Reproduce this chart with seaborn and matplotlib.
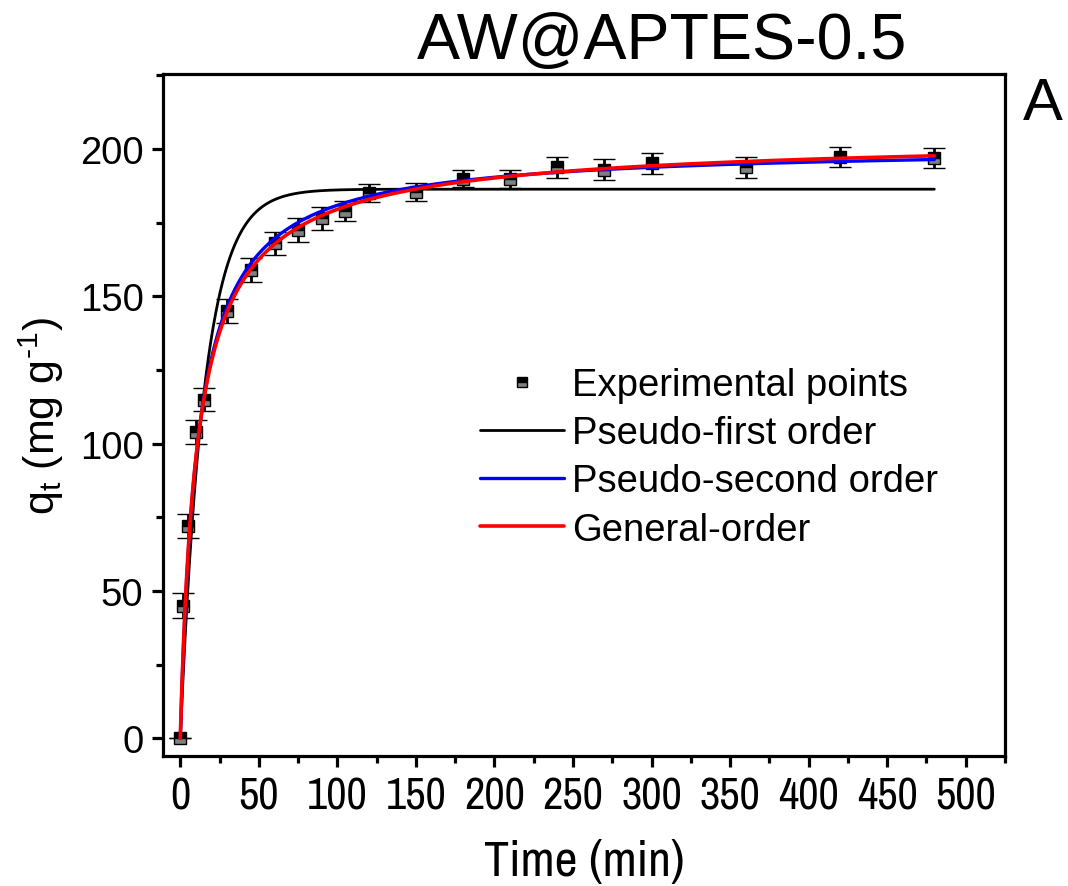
import numpy as np
import pandas as pd
import matplotlib
matplotlib.use("Agg")
import matplotlib.pyplot as plt
from matplotlib import font_manager
from matplotlib.lines import Line2D
import seaborn as sns

# Experimental kinetic data
time_min = [0, 2, 5, 10, 15, 30, 45, 60, 75, 90, 105, 120, 150, 180, 210, 240, 270, 300, 360, 420, 480]
qt_exp = [0.0, 45.0, 72.0, 104.0, 115.0, 145.0, 159.0, 168.0, 172.5, 176.5, 179.0, 185.0,
          185.5, 190.0, 189.8, 193.8, 193.0, 195.2, 193.8, 197.3, 197.0]
qt_err = [0.0, 4.2, 4.0, 4.0, 4.0, 4.0, 4.0, 4.0, 4.0, 4.0, 3.5, 3.0,
          3.0, 3.0, 3.0, 3.5, 3.5, 3.5, 3.5, 3.5, 3.5]

# Fitted model parameters
pfo_qe, pfo_k1 = 186.4, 0.066
pso_qe, pso_k2 = 201.0, 0.000449
go_qe, go_kn, go_n = 205.0, 0.1124 / (1.2 * 205.0 ** 1.2), 2.2

legend_labels = ["Experimental points", "Pseudo-first order", "Pseudo-second order", "General-order"]
title_text = "AW@APTES-0.5"
panel_letter = "A"

sns.set_theme(style="ticks")
plt.rcParams["font.family"] = ["Liberation Sans", "DejaVu Sans"]
plt.rcParams["mathtext.fontset"] = "custom"
plt.rcParams["mathtext.rm"] = "Liberation Sans"
plt.rcParams["text.color"] = "black"
plt.rcParams["axes.labelcolor"] = "black"
plt.rcParams["xtick.color"] = "black"
plt.rcParams["ytick.color"] = "black"

names = {f.name for f in font_manager.fontManager.ttflist}
narrow = next((n for n in ["Liberation Sans Narrow", "Archivo Narrow", "Roboto Condensed", "PT Sans Narrow"]
               if n in names), "Liberation Sans")

# model curves
t = np.linspace(0, 480, 961)
curves = pd.DataFrame({
    "t": np.concatenate([t, t, t]),
    "q": np.concatenate([
        pfo_qe * (1 - np.exp(-pfo_k1 * t)),
        pso_k2 * pso_qe ** 2 * t / (1 + pso_k2 * pso_qe * t),
        go_qe - go_qe / (go_kn * go_qe ** (go_n - 1) * (go_n - 1) * t + 1) ** (1 / (go_n - 1)),
    ]),
    "model": np.repeat(legend_labels[1:], len(t)),
})

W, H = 1068, 887
fig = plt.figure(figsize=(W / 100, H / 100), dpi=100)
ax = fig.add_axes([163 / W, 1 - 757 / H, (1005 - 163) / W, (757 - 75) / H])

palette = {legend_labels[1]: "#000000", legend_labels[2]: "#0000FF", legend_labels[3]: "#FF0000"}
widths = {legend_labels[1]: 2.0, legend_labels[2]: 2.4, legend_labels[3]: 2.6}

ax.errorbar(time_min, qt_exp, yerr=qt_err, fmt="s", ms=8.5, color="black",
            mfc="black", mfcalt="#808080", fillstyle="top", mec="black", mew=1.0,
            ecolor="black", elinewidth=2.0, capsize=8, capthick=2.0, zorder=2)

for name in legend_labels[1:]:
    sub = curves[curves["model"] == name]
    sns.lineplot(data=sub, x="t", y="q", color=palette[name], lw=widths[name],
                 ax=ax, legend=False, zorder=3, estimator=None, sort=False)

ax.set_xlim(-11, 523)
ax.set_ylim(-6, 225.5)
ax.set_xticks(np.arange(0, 501, 50))
ax.set_xticks(np.arange(25, 526, 50), minor=True)
ax.set_yticks(np.arange(0, 201, 50))
ax.set_yticks(np.arange(25, 226, 50), minor=True)

for s in ax.spines.values():
    s.set_linewidth(2.3)
    s.set_color("black")
ax.tick_params(which="major", direction="out", length=8, width=2.3, color="black")
ax.tick_params(which="minor", direction="out", length=5, width=2.3, color="black")
ax.tick_params(axis="y", labelsize=27.5, pad=6)
ax.tick_params(axis="x", pad=7)
for lab in ax.get_xticklabels():
    lab.set_family(narrow)
    lab.set_fontsize(32)

ax.set_xlabel("Time (min)", fontsize=36, family=narrow, labelpad=16)
ax.set_ylabel("q$_\\mathregular{t}$ (mg g$^\\mathregular{\u20101}$)", fontsize=31, labelpad=10)

fig.text(662 / W, 1 - 42 / H, title_text, fontsize=46.5, ha="center", va="center")
fig.text(1043 / W, 1 - 105 / H, panel_letter, fontsize=43, ha="center", va="center")

handles = [
    Line2D([], [], ls="none", marker="s", ms=7.5, mfc="black", mfcalt="#808080",
           fillstyle="top", mec="black", mew=1.0),
    Line2D([], [], color="#000000", lw=2.0),
    Line2D([], [], color="#0000FF", lw=2.4),
    Line2D([], [], color="#FF0000", lw=2.6),
]
ax.legend(handles, legend_labels, loc="upper left", bbox_to_anchor=(480 / W, 1 - 368 / H),
          bbox_transform=fig.transFigure, frameon=False, fontsize=27.5, borderpad=0,
          borderaxespad=0, handlelength=2.2, handletextpad=0.22, labelspacing=0.32)

fig.savefig("out.png", dpi=100)
